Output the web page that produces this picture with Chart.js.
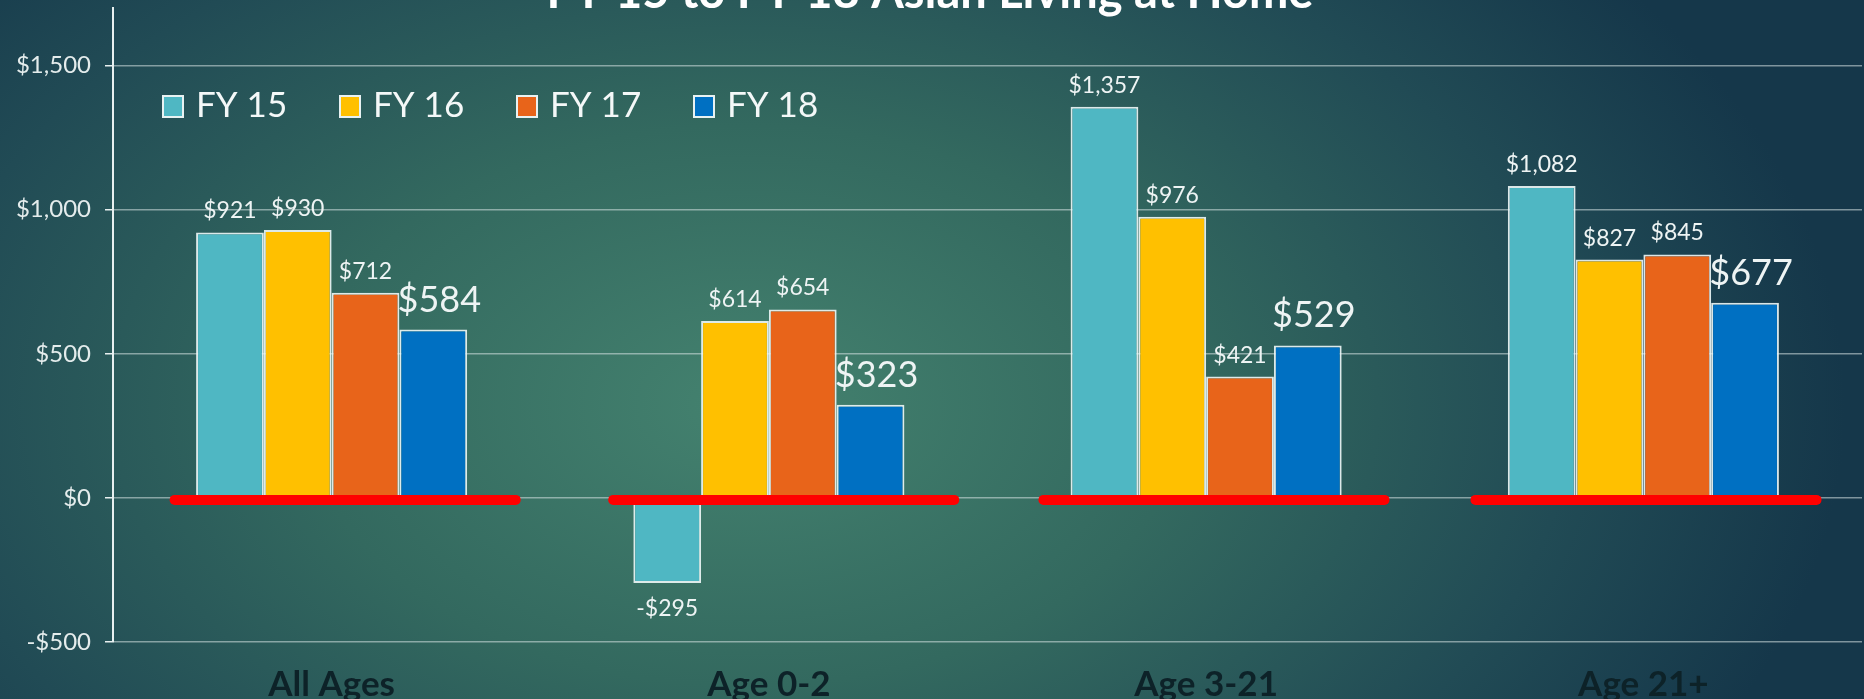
<!DOCTYPE html>
<html>
<head>
<meta charset="utf-8">
<script src="https://cdn.jsdelivr.net/npm/chart.js@4.4.1/dist/chart.umd.min.js"></script>
<style>
    html, body { margin: 0; padding: 0; width: 1864px; height: 699px; overflow: hidden; }
    body {
        background: radial-gradient(ellipse 1100px 700px at 40% 58%, #44826f 0%, #33695f 40%, #214b55 75%, #15374a 100%);
    }
    #wrap { position: relative; width: 1864px; height: 699px; }
</style>
</head>
<body>
<div id="wrap"><canvas id="chart"></canvas></div>
<script>
// 차트 데이터
const titleText = 'FY 15 to FY 18 Asian Living at Home';
const categories = ['All Ages', 'Age 0-2', 'Age 3-21', 'Age 21+'];
const seriesNames = ['FY 15', 'FY 16', 'FY 17', 'FY 18'];
const fy15 = [921, -295, 1357, 1082];
const fy16 = [930, 614, 976, 827];
const fy17 = [712, 654, 421, 845];
const fy18 = [584, 323, 529, 677];
const yTicks = [-500, 0, 500, 1000, 1500];

const colors = ['#4fb7c3', '#ffc000', '#e8641a', '#0070c2'];
const seriesValues = [fy15, fy16, fy17, fy18];

function money(v) {
    const s = '$' + Math.abs(v).toLocaleString('en-US');
    return v < 0 ? '-' + s : s;
}

// 제목 (위쪽이 잘린 상태)
const titlePlugin = {
    id: 'topTitle',
    afterDraw(chart) {
        const ctx = chart.ctx;
        ctx.save();
        ctx.font = 'bold 47px Lato';
        ctx.fillStyle = '#ffffff';
        ctx.textAlign = 'center';
        ctx.textBaseline = 'alphabetic';
        ctx.fillText(titleText, 930, 8);
        ctx.restore();
    }
};

// 0 위치의 빨간 선 (손으로 그은 듯 조금씩 어긋남) + 값 라벨
const redShift = [0.031, 0.034, 0.018, 0.006];
const markPlugin = {
    id: 'marks',
    afterDatasetsDraw(chart) {
        const ctx = chart.ctx;
        const x = chart.scales.x, y = chart.scales.y;
        const w = x.getPixelForValue(1) - x.getPixelForValue(0);
        const y0 = y.getPixelForValue(0) + 2;
        ctx.save();
        ctx.strokeStyle = '#ff0000';
        ctx.lineWidth = 10;
        ctx.lineCap = 'round';
        categories.forEach((c, i) => {
            const cx = x.getPixelForValue(i) + redShift[i] * w;
            ctx.beginPath();
            ctx.moveTo(cx - 0.39 * w, y0);
            ctx.lineTo(cx + 0.39 * w, y0);
            ctx.stroke();
        });

        ctx.fillStyle = '#eef4f4';
        ctx.textAlign = 'center';
        chart.data.datasets.forEach((ds, di) => {
            const meta = chart.getDatasetMeta(di);
            const big = di === 3;
            ctx.font = (big ? 36 : 23) + 'px Lato';
            meta.data.forEach((bar, i) => {
                const v = ds.data[i];
                if (v >= 0) {
                    ctx.textBaseline = 'alphabetic';
                    ctx.fillText(money(v), bar.x + (big ? 6 : 0), bar.y - (big ? 18 : 14));
                } else {
                    ctx.textBaseline = 'top';
                    ctx.fillText(money(v), bar.x, bar.y + 14);
                }
            });
        });
        ctx.restore();
    }
};

// 차트 안쪽 범례
const legendPlugin = {
    id: 'innerLegend',
    afterDraw(chart) {
        const ctx = chart.ctx;
        const area = chart.chartArea;
        const cy = area.top + 98;
        ctx.save();
        ctx.font = '35px Lato';
        ctx.textBaseline = 'middle';
        ctx.textAlign = 'left';
        chart.data.datasets.forEach((ds, i) => {
            const bx = area.left + 50 + i * 177;
            ctx.fillStyle = ds.backgroundColor;
            ctx.fillRect(bx, cy - 10, 20, 21);
            ctx.strokeStyle = '#e8f2f2';
            ctx.lineWidth = 2;
            ctx.strokeRect(bx, cy - 10, 20, 21);
            ctx.fillStyle = '#f4f8f8';
            ctx.fillText(ds.label, bx + 33, cy);
        });
        ctx.restore();
    }
};

const ctx = document.getElementById('chart').getContext('2d');
new Chart(ctx, {
    type: 'bar',
    data: {
        labels: categories,
        datasets: seriesNames.map((name, i) => ({
            label: name,
            data: seriesValues[i],
            backgroundColor: colors[i],
            borderColor: 'rgba(240,248,248,0.9)',
            borderWidth: 2,
            borderSkipped: false,
            categoryPercentage: 0.62,
            barPercentage: 1.0
        }))
    },
    options: {
        responsive: true,
        maintainAspectRatio: false,
        animation: false,
        layout: { padding: { top: 8, right: 2, left: 0, bottom: 0 } },
        plugins: {
            legend: { display: false },
            tooltip: { enabled: false }
        },
        scales: {
            x: {
                grid: { display: false },
                border: { display: false },
                ticks: {
                    color: '#0d2228',
                    font: { family: 'Lato', weight: 'bold', size: 35 },
                    padding: 14
                },
                afterFit: s => { s.height = 57; s.paddingLeft = 0; s.paddingRight = 0; }
            },
            y: {
                min: -500,
                max: 1700,
                afterBuildTicks: s => { s.ticks = yTicks.map(v => ({ value: v })); },
                afterFit: s => { s.width = 113; s.paddingTop = 0; s.paddingBottom = 0; },
                grid: {
                    color: 'rgba(215,228,228,0.55)',
                    lineWidth: 1.5,
                    tickLength: 8,
                    tickColor: '#e8f0f0'
                },
                border: { color: '#e8f0f0', width: 2 },
                ticks: {
                    color: '#e4ecec',
                    font: { family: 'Lato', size: 24 },
                    padding: 14,
                    callback: v => money(v)
                }
            }
        }
    },
    plugins: [markPlugin, legendPlugin, titlePlugin]
});
</script>
</body>
</html>
